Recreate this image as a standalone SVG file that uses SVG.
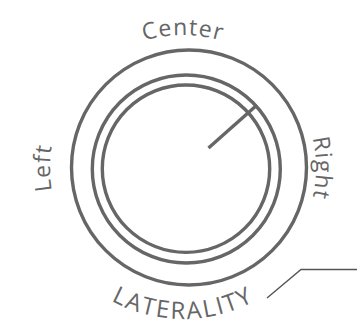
<svg xmlns="http://www.w3.org/2000/svg" xmlns:xlink="http://www.w3.org/1999/xlink" width="364" height="323" viewBox="0 0 364 323">
<style>
.ring{fill:none;stroke:#666666;stroke-width:3.4}
.lbl{font-family:"Open Sans","Liberation Sans",sans-serif;font-size:23px;fill:#666666;letter-spacing:1.2px}
.big{font-size:24px;letter-spacing:2px}
.lead{fill:none;stroke:#555555;stroke-width:1.4}
</style>
<defs>
<path id="arcTop" d="M 50 168 A 133 133 0 0 1 316 168"/>
<path id="arcLeft" d="M 88.95 262.05 A 133 133 0 0 1 88.95 73.95"/>
<path id="arcRight" d="M 277.05 73.95 A 133 133 0 0 1 277.05 262.05"/>
<path id="arcBottom" d="M 32 168 A 151 151 0 0 0 334 168"/>
</defs>
<rect width="364" height="323" fill="#ffffff"/>
<g id="knob">
<circle class="ring" cx="189" cy="167.5" r="117.5"/>
<circle class="ring" cx="186.3" cy="169" r="94"/>
<circle class="ring" cx="186" cy="168.7" r="83.7"/>
</g>
<g id="needle">
<line x1="208.5" y1="148" x2="257" y2="105" stroke="#666666" stroke-width="3.4"/>
</g>
<g id="label-center">
<text class="lbl" text-anchor="middle"><textPath xlink:href="#arcTop" href="#arcTop" startOffset="50%">Center</textPath></text>
</g>
<g id="label-left">
<text class="lbl" text-anchor="middle"><textPath xlink:href="#arcLeft" href="#arcLeft" startOffset="50%">Left</textPath></text>
</g>
<g id="label-right">
<text class="lbl" text-anchor="middle"><textPath xlink:href="#arcRight" href="#arcRight" startOffset="50%">Right</textPath></text>
</g>
<g id="label-laterality">
<text class="lbl big" text-anchor="middle"><textPath xlink:href="#arcBottom" href="#arcBottom" startOffset="50%">LATERALITY</textPath></text>
</g>
<g id="connectors">
<polyline class="lead" points="267,298 301,269.5 357,269.5"/>
</g>
</svg>
